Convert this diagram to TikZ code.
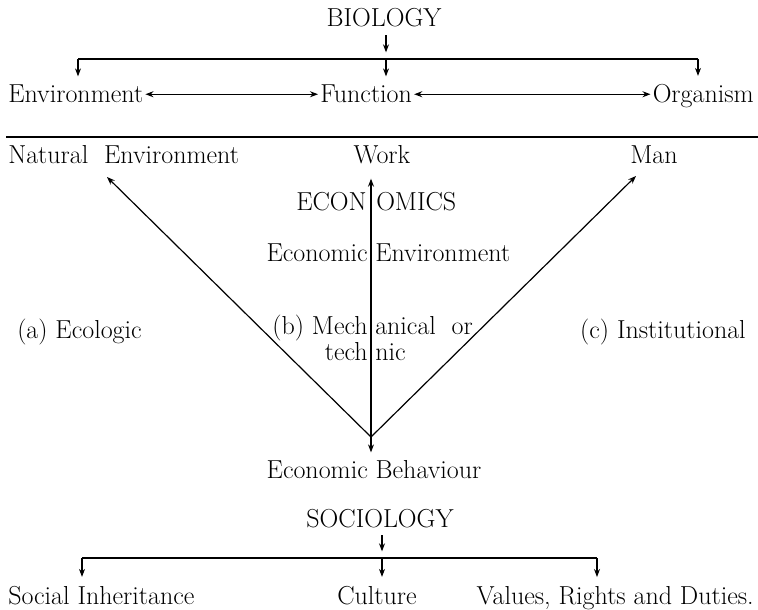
\documentclass[tikz,border=0pt]{standalone}
\usepackage{amsmath}
\usepackage{xcolor}
\usepackage{tikz}
\usetikzlibrary{arrows.meta}

\tikzset{
  lbl/.style={inner sep=1.5pt, font=\fontsize{19.5}{22}\selectfont},
  tight/.style={lbl, inner sep=0pt},
  arr/.style={-{Stealth[length=6pt,width=4.5pt]}, line width=0.8pt},
  both/.style={{Stealth[length=6pt,width=4.5pt]}-{Stealth[length=6pt,width=4.5pt]}, line width=0.8pt},
  drop/.style={arr, shorten >=5pt},
  rule/.style={line width=1.3pt},
}

\begin{document}
\begin{tikzpicture}[x=0.75pt,y=0.75pt,yscale=-1,xscale=1]
\useasboundingbox (0,0) rectangle (758,610);

% Text Node
\node [lbl, anchor=base] (biology) at (384,27) {BIOLOGY};
% Text Node
\node [lbl, anchor=base west] (env) at (6,103) {Environment};
% Text Node
\node [lbl, anchor=base west] (func) at (318,103) {Function};
% Text Node
\node [lbl, anchor=base east] (org) at (756,103) {Organism};

%Straight Lines
\coordinate (bl) at (78,59);
\coordinate (bm) at (386,59);
\coordinate (br) at (698,59);
\draw [rule] (bl) -- (br);
\draw [arr, shorten <=4pt, shorten >=5pt] (biology.south -| bm) -- (bm);
\draw [drop] (bl) -- (bl |- env.north);
\draw [drop] (bm) -- (bm |- func.north);
\draw [drop] (br) -- (br |- org.north);
\draw [both] (env.east) -- (func.west);
\draw [both] (func.east) -- (org.west |- func.east);

%Straight Lines
\coordinate (rl) at (6,137);
\coordinate (rr) at (758,137);
\draw [rule] (rl) -- (rr);

% Text Node
\node [lbl, anchor=base west] (natenv) at (6,164) {Natural\ \ Environment};
% Text Node
\node [lbl, anchor=base] (work) at (382,164) {Work};
% Text Node
\node [lbl, anchor=base] (man) at (654,164) {Man};

% Text Node
\node [tight, anchor=base east] (econ) at (367,210) {ECON};
\node [tight, anchor=base west] (omics) at (376,210) {OMICS};
% Text Node
\node [tight, anchor=base east] (ecenvl) at (368,262) {Economic};
\node [tight, anchor=base west] (ecenvr) at (375,262) {Environment};
% Text Node
\node [lbl, anchor=base west] (ecol) at (15,338) {(a)\ Ecologic};
% Text Node
\node [tight, anchor=base east] (mechl) at (368,334) {(b) Mech};
\node [tight, anchor=base west] (mechr) at (375,334) {anical\ \ or};
\node [tight, anchor=base east] (techl) at (368,360) {tech};
\node [tight, anchor=base west] (techr) at (375,360) {nic};
% Text Node
\node [lbl, anchor=base east] (inst) at (748,338) {(c) Institutional};
% Text Node
\node [lbl, anchor=base] (ecbeh) at (374,478) {Economic\ Behaviour};

%Straight Lines
\coordinate (vx) at (371,0);
\coordinate (apex) at (371,437);
\coordinate (netip) at (107,177);
\coordinate (mantip) at (636,176);
\draw [both, shorten <=9pt, shorten >=4pt] (work.south -| vx) -- (ecbeh.north -| vx);
\draw [arr, line width=0.9pt] (apex) -- (netip);
\draw [arr, line width=0.9pt] (apex) -- (mantip);

% Text Node
\node [lbl, anchor=base] (socio) at (380,527) {SOCIOLOGY};
% Text Node
\node [lbl, anchor=base west] (inherit) at (6,604) {Social\ Inheritance};
% Text Node
\node [lbl, anchor=base] (culture) at (377,604) {Culture};
% Text Node
\node [lbl, anchor=base east] (values) at (756,604) {Values,\ Rights\ and\ Duties.};

%Straight Lines
\coordinate (sl) at (82,558);
\coordinate (sm) at (382,558);
\coordinate (sr) at (597,558);
\draw [rule] (sl) -- (sr);
\draw [arr, shorten <=4pt, shorten >=5pt] (socio.south -| sm) -- (sm);
\draw [drop] (sl) -- (sl |- inherit.north);
\draw [drop] (sm) -- (sm |- culture.north);
\draw [drop] (sr) -- (sr |- values.north);
\end{tikzpicture}
\end{document}
